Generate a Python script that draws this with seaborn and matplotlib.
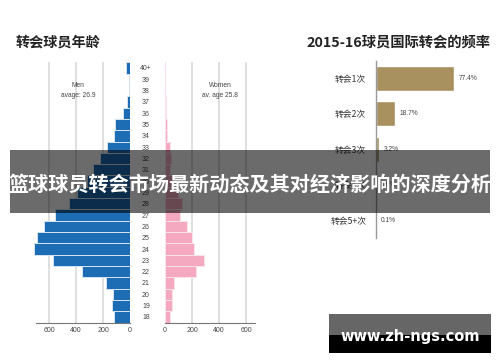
import matplotlib
matplotlib.use("Agg")
import matplotlib.pyplot as plt
import seaborn as sns
from matplotlib.patches import Rectangle

# Age pyramid of transferred players
ages = ["18", "19", "20", "21", "22", "23", "24", "25", "26", "27", "28", "29",
        "30", "31", "32", "33", "34", "35", "36", "37", "38", "39", "40+"]
men = [118, 133, 124, 180, 353, 573, 713, 691, 635, 556, 450, 390,
       320, 272, 222, 173, 116, 111, 55, 20, 10, 10, 30]
women = [35, 52, 50, 67, 228, 292, 216, 203, 161, 112, 124, 100,
         60, 40, 45, 40, 17, 12, 10, 5, 3, 2, 2]
axis_ticks = [0, 200, 400, 600]

# International transfer frequency 2015-16
freq_labels = ["转会1次", "转会2次", "转会3次", "转会4次", "转会5+次"]
freq_values = [77.4, 18.7, 3.2, 0.6, 0.1]

sns.set_style("white")
plt.rcParams["font.family"] = ["Noto Sans CJK SC", "DejaVu Sans"]
num_font = ["Liberation Sans Narrow", "Liberation Sans", "DejaVu Sans"]

W, H = 500, 362
fig = plt.figure(figsize=(W / 100, H / 100), dpi=100)
fig.patch.set_facecolor("white")


def px_axes(x0, y0, x1, y1):
    return fig.add_axes([x0 / W, 1 - y1 / H, (x1 - x0) / W, (y1 - y0) / H])


order = ages[::-1]

# Men (left side)
ax_m = px_axes(30, 62.3, 130, 322.6)
for v in axis_ticks[1:]:
    ax_m.axvline(v, color="#d9d9d9", lw=1.2, zorder=0)
sns.barplot(x=men, y=ages, order=order, orient="h", color="#1c6db4",
            width=1.0, edgecolor="#d5e4f2", linewidth=0.7, saturation=1, ax=ax_m)
ax_m.set_xlim(741, 0)
ax_m.set_xticks(axis_ticks)
ax_m.set_xticklabels([str(t) for t in axis_ticks], family=num_font)
ax_m.set_xlabel("")
ax_m.set_ylabel("")
for s in ["top", "left", "right"]:
    ax_m.spines[s].set_visible(False)
ax_m.spines["bottom"].set_bounds(0, 696)
ax_m.spines["bottom"].set_color("#777777")
ax_m.spines["bottom"].set_linewidth(0.8)
ax_m.tick_params(axis="x", length=0, pad=3, labelsize=5, labelcolor="#444444")
ax_m.yaxis.tick_right()
ax_m.tick_params(axis="y", length=0, pad=11.5, labelsize=5, labelcolor="#444444")
for lab in ax_m.get_yticklabels():
    lab.set_ha("center")
    lab.set_family(num_font)
ax_m.text(0.48, 0.892, "Men\navage: 26.9", transform=ax_m.transAxes, ha="center",
          va="center", fontsize=4.8, color="#444444", family=num_font, linespacing=1.5)

# Women (right side)
ax_w = px_axes(165, 62.3, 255, 322.6)
sns.barplot(x=women, y=ages, order=order, orient="h", color="#f5a9c0",
            width=1.0, edgecolor="#fbe3ea", linewidth=0.7, saturation=1, ax=ax_w)
ax_w.set_xlim(0, 667)
ax_w.set_xticks(axis_ticks)
ax_w.set_xticklabels([str(t) for t in axis_ticks], family=num_font)
ax_w.grid(axis="x", color="#d9d9d9", lw=1.2)
ax_w.set_axisbelow(True)
ax_w.set_yticks([])
ax_w.set_xlabel("")
ax_w.set_ylabel("")
for s in ["top", "left", "right"]:
    ax_w.spines[s].set_visible(False)
ax_w.spines["bottom"].set_color("#777777")
ax_w.spines["bottom"].set_linewidth(0.8)
ax_w.tick_params(axis="x", length=0, pad=3, labelsize=5, labelcolor="#444444")
ax_w.text(0.61, 0.892, "Women\nav. age 25.8", transform=ax_w.transAxes, ha="center",
          va="center", fontsize=4.8, color="#444444", family=num_font, linespacing=1.5)

# Transfer frequency bars
ax_f = px_axes(376, 60.5, 490, 238.3)
sns.barplot(x=freq_values, y=freq_labels, orient="h", color="#a8915f",
            width=0.7, saturation=1, ax=ax_f)
ax_f.set_xlim(0, 113)
ax_f.set_xticks([])
ax_f.set_xlabel("")
ax_f.set_ylabel("")
for s in ["top", "right", "bottom"]:
    ax_f.spines[s].set_visible(False)
ax_f.spines["left"].set_color("#999999")
ax_f.spines["left"].set_linewidth(1)
ax_f.tick_params(axis="y", length=0, pad=7, labelsize=6.3, labelcolor="#333333")
ax_f.bar_label(ax_f.containers[0], labels=[f"{v}%" for v in freq_values],
               padding=3, fontsize=4.8, color="#444444", family=num_font)

# Titles
fig.text(16 / W, 1 - 43 / H, "转会球员年龄", ha="left", va="center",
         fontsize=10.2, fontweight="bold", color="#222222")
fig.text(306 / W, 1 - 43 / H, "2015-16球员国际转会的频率", ha="left", va="center",
         fontsize=10.3, fontweight="bold", color="#222222")

# Overlay banner
fig.patches.append(Rectangle((10 / W, 1 - 213 / H), 480 / W, 63 / H,
                             transform=fig.transFigure, facecolor="black",
                             alpha=0.58, edgecolor="none", zorder=5))
fig.text(250 / W, 1 - 184 / H, "篮球球员转会市场最新动态及其对经济影响的深度分析",
         ha="center", va="center", fontsize=14.5, fontweight="bold",
         color="white", zorder=6)

# Watermark
fig.patches.append(Rectangle((329 / W, 1 - 335 / H), 162 / W, 21 / H,
                             transform=fig.transFigure, facecolor="#666666",
                             edgecolor="none", zorder=5))
fig.patches.append(Rectangle((329 / W, 1 - 353 / H), 162 / W, 18 / H,
                             transform=fig.transFigure, facecolor="black",
                             edgecolor="none", zorder=5))
fig.text(410 / W, 1 - 337 / H, "www.zh-ngs.com", ha="center", va="center",
         fontsize=10.5, fontweight="bold", color="white",
         family="DejaVu Sans", zorder=6)

fig.savefig("out.png", dpi=100)
